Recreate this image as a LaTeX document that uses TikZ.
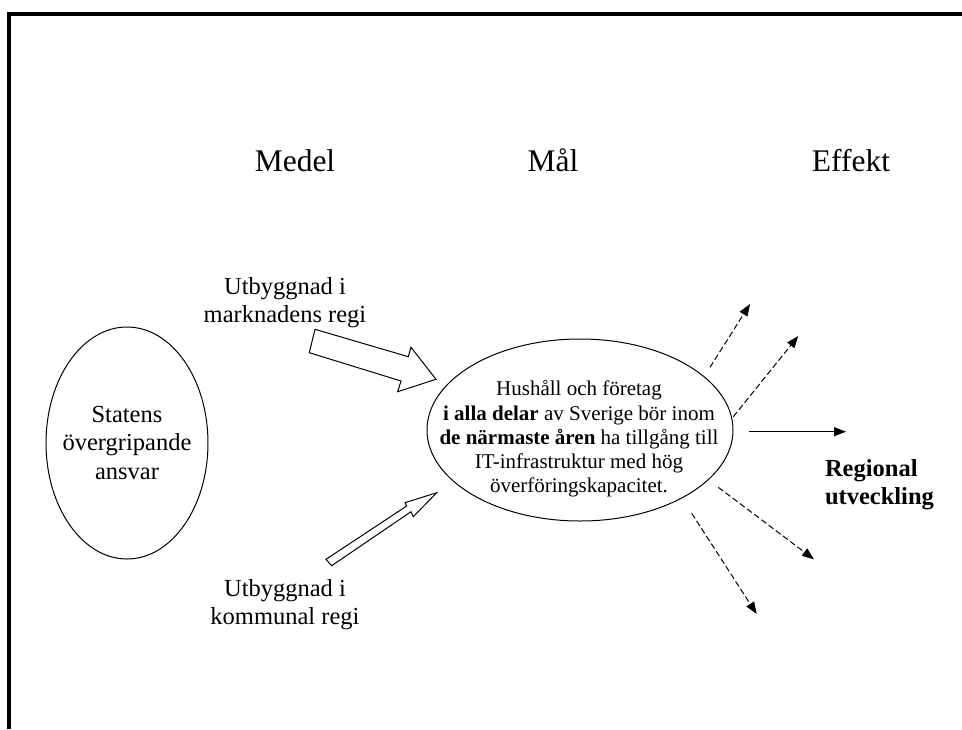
\documentclass[tikz,border=0pt]{standalone}
\usepackage{fontspec}
\setmainfont{Liberation Serif}
\usetikzlibrary{arrows.meta,shapes.geometric}
\begin{document}
\begin{tikzpicture}[x=1pt,y=-1pt,
  every node/.style={inner sep=0pt, outer sep=0pt},
  twelve/.style={font=\fontsize{21}{24.2}\selectfont},
  fourteen/.style={font=\fontsize{24.5}{28.2}\selectfont},
  fourteenbold/.style={font=\fontsize{24.5}{28.2}\selectfont\bfseries},
  head/.style={font=\fontsize{31.5}{36}\selectfont, anchor=base},
  oval/.style={draw, ellipse, line width=1pt},
  blockarrow/.style={draw, line width=1pt, fill=white, line join=miter},
  effarrow/.style={line width=1pt, -{Triangle[length=12pt,width=9pt]}},
  dasharrow/.style={effarrow, dash pattern=on 6pt off 3pt},
]
\useasboundingbox (0,0) rectangle (962,729);
\fill[white] (0,0) rectangle (962,729);
\draw[line width=4pt, line join=miter] (9,729) -- (9,14) -- (962,14);

% headings
\node[head] (medel) at (295,171) {Medel};
\node[head] (mal) at (553,171) {Mål};
\node[head] (effekt) at (851,171) {Effekt};

% left ellipse
\node[oval, minimum width=162pt, minimum height=232pt] (staten) at (127,443) {};
\node[fourteen, align=center] (statentext) at (staten.center) {Statens\\övergripande\\ansvar};

% main ellipse
\node[oval, minimum width=306pt, minimum height=182pt] (goal) at (580,430) {};
\node[twelve, align=center] (goaltext) at (579,439) {Hushåll och företag\\\textbf{i alla delar} av Sverige bör inom\\\textbf{de närmaste åren} ha tillgång till\\IT-infrastruktur med hög\\överföringskapacitet.};

% block arrows
\draw[blockarrow] (315,329.3) -- (408.3,356.7) -- (411,347.3) -- (436,379.3) -- (397.7,391.7) -- (401,381) -- (309.3,352.7) -- cycle;
\draw[blockarrow] (326,559.3) -- (406.7,506) -- (405,502.7) -- (436.7,492.7) -- (413.3,516.7) -- (411,511.7) -- (331.7,565.7) -- cycle;

% side texts
\node[fourteen, align=center] (markn) at (285,302.8) {Utbyggnad i\\marknadens regi};
\node[fourteen, align=center] (komm) at (285,604.3) {Utbyggnad i\\kommunal regi};
\node[fourteenbold, align=left, anchor=west] (regional) at (825,485) {Regional\\utveckling};

% effect arrows
\coordinate (d1s) at (710,367.3); \coordinate (d1e) at (750,304);
\coordinate (d2s) at (733.3,416.7); \coordinate (d2e) at (798.3,336);
\coordinate (s1s) at (749.3,431.7); \coordinate (s1e) at (846,431.7);
\coordinate (d3s) at (718.3,487.3); \coordinate (d3e) at (814,559.3);
\coordinate (d4s) at (691.7,513.3); \coordinate (d4e) at (756.7,614);
\draw[dasharrow] (d1s) -- (d1e);
\draw[dasharrow] (d2s) -- (d2e);
\draw[effarrow] (s1s) -- (s1e);
\draw[dasharrow] (d3s) -- (d3e);
\draw[dasharrow] (d4s) -- (d4e);
\end{tikzpicture}
\end{document}
